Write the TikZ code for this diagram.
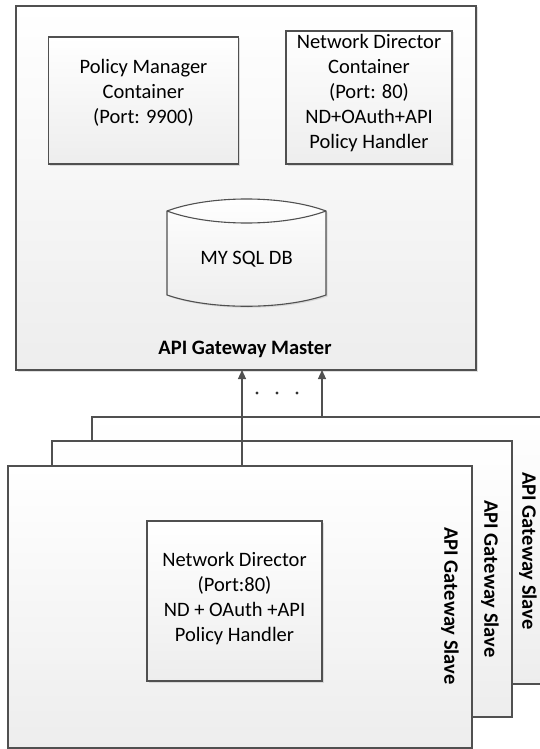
\documentclass[tikz,border=0pt]{standalone}
\usepackage{fontspec}
\setmainfont{Carlito}
\usetikzlibrary{arrows.meta,shadows}
\definecolor{edge}{HTML}{505050}
\tikzset{
  box/.style={draw=edge, line width=1.1pt, inner sep=0pt, top color=white, bottom color=black!7,
    drop shadow={shadow xshift=1.5pt, shadow yshift=-1.5pt, fill=black!25}},
  flatbox/.style={draw=edge, line width=1.1pt, inner sep=0pt, top color=white, bottom color=black!7},
  txt/.style={align=center, inner sep=0pt, font=\fontsize{20.5}{25}\selectfont, text=black},
  btxt/.style={inner sep=0pt, font=\fontsize{20.5}{25}\selectfont\bfseries, text=black},
  arr/.style={draw=edge, line width=1.1pt, -{Triangle[length=9pt,width=8pt]}},
}
\begin{document}
\begin{tikzpicture}[x=1pt,y=-1pt]
\useasboundingbox (0,0) rectangle (540,749);
\clip (0,0) rectangle (540,749);
% master
\node[box, minimum width=460, minimum height=364] (master) at (246,188) {};
\node[box, minimum width=190, minimum height=127] (pm) at (143.5,100.5) {};
\node[txt] (pmt) at (143.5,93) {Policy Manager\\Container\\(Port: 9900)};
\node[box, minimum width=166, minimum height=133] (nd) at (369,97.5) {};
\node[txt] (ndt) at (369,93) {Network Director\\Container\\(Port: 80)\\ND+OAuth+API\\Policy Handler};
% database
\path[draw=edge, line width=1.1pt, top color=white, bottom color=black!7,
  drop shadow={shadow xshift=1.5pt, shadow yshift=-1.5pt, fill=black!25}]
  (167,211) .. controls (210,195) and (283,195) .. (326,211)
  -- (326,295) .. controls (283,310) and (210,310) .. (167,295) -- cycle;
\draw[edge, line width=1.1pt] (167,211) .. controls (210,227) and (283,227) .. (326,211);
\node[txt] (db) at (246.5,259) {MY SQL DB};
\node[btxt] (mlabel) at (245,349) {API Gateway Master};
% slaves
\node[flatbox, minimum width=470, minimum height=267] (s3) at (327,550.5) {};
\node[flatbox, minimum width=460, minimum height=276] (s2) at (282,579) {};
\node[flatbox, minimum width=464, minimum height=282] (s1) at (240,607) {};
\node[btxt, rotate=-90] (l3) at (528,551) {API Gateway Slave};
\node[btxt, rotate=-90] (l2) at (490,579) {API Gateway Slave};
\node[btxt, rotate=-90] (l1) at (450,606) {API Gateway Slave};
\node[box, minimum width=175, minimum height=160] (ins) at (234.5,601) {};
\node[txt] (inst) at (234.5,598.5) {Network Director\\(Port:80)\\ND + OAuth +API\\Policy Handler};
% arrows
\coordinate (a1s) at (242,466);
\coordinate (a1e) at (242,370);
\coordinate (a2s) at (322,417);
\coordinate (a2e) at (322,370);
\draw[arr] (a1s) -- (a1e);
\draw[arr] (a2s) -- (a2e);
\foreach \x/\n in {257/d1,277/d2,297/d3} \fill[black!80] (\x,393) circle (1.6) coordinate (\n);
\end{tikzpicture}
\end{document}
